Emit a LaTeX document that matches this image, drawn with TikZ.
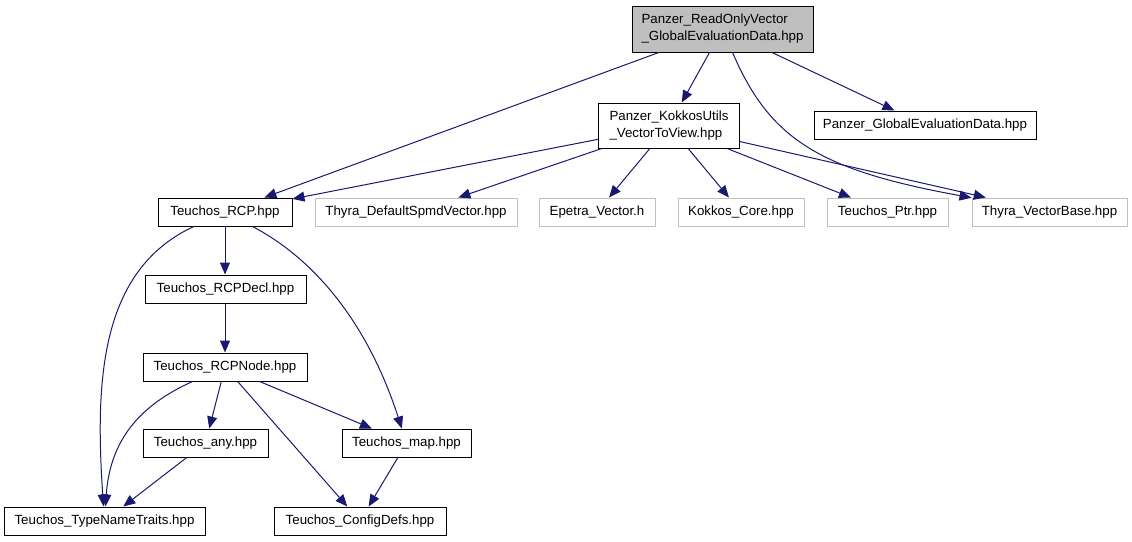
\documentclass[tikz,border=0pt]{standalone}
\usepackage{fontspec}
\setmainfont{Liberation Sans}
\usetikzlibrary{arrows.meta}
\definecolor{edgeblue}{HTML}{191970}
\definecolor{lightgrayb}{HTML}{BFBFBF}
\tikzset{
  box/.style={draw=black, line width=1pt, inner sep=0pt, font=\fontsize{13.3}{17}\selectfont, text=black},
  extbox/.style={draw=lightgrayb, line width=1pt, inner sep=0pt, font=\fontsize{13.3}{17}\selectfont, text=black},
  rootbox/.style={box, fill=lightgrayb},
  edge/.style={draw=edgeblue, line width=1pt, -{Triangle[length=12pt,width=10pt]}}
}
\begin{document}
\begin{tikzpicture}[x=1pt,y=-1pt]
\useasboundingbox[fill=white] (0,0) rectangle (1132,541);
% nodes
\node[rootbox, minimum width=181pt, minimum height=46pt, align=left] (root) at (722.5,29) {Panzer\_ReadOnlyVector\\\_GlobalEvaluationData.hpp};
\node[box, minimum width=141pt, minimum height=45pt, align=left] (kok) at (669,125.5) {Panzer\_KokkosUtils\\\_VectorToView.hpp};
\node[box, minimum width=222pt, minimum height=28pt] (ged) at (925,125) {Panzer\_GlobalEvaluationData.hpp};
\node[box, minimum width=134pt, minimum height=28pt] (rcp) at (225,212) {Teuchos\_RCP.hpp};
\node[extbox, minimum width=202pt, minimum height=28pt] (spmd) at (416,212) {Thyra\_DefaultSpmdVector.hpp};
\node[extbox, minimum width=116pt, minimum height=28pt] (epetra) at (597,212) {Epetra\_Vector.h};
\node[extbox, minimum width=126pt, minimum height=28pt] (kcore) at (741,212) {Kokkos\_Core.hpp};
\node[extbox, minimum width=121pt, minimum height=28pt] (ptr) at (887.5,212) {Teuchos\_Ptr.hpp};
\node[extbox, minimum width=155pt, minimum height=28pt] (vb) at (1049.5,212) {Thyra\_VectorBase.hpp};
\node[box, minimum width=161pt, minimum height=28pt] (decl) at (225.5,289) {Teuchos\_RCPDecl.hpp};
\node[box, minimum width=164pt, minimum height=28pt] (rnode) at (225,367) {Teuchos\_RCPNode.hpp};
\node[box, minimum width=125pt, minimum height=28pt] (any) at (205.5,443) {Teuchos\_any.hpp};
\node[box, minimum width=129pt, minimum height=28pt] (map) at (406.5,443) {Teuchos\_map.hpp};
\node[box, minimum width=201pt, minimum height=28pt] (tnt) at (104.5,521) {Teuchos\_TypeNameTraits.hpp};
\node[box, minimum width=172pt, minimum height=28pt] (cfg) at (360,521) {Teuchos\_ConfigDefs.hpp};
% edges
\draw[edge] (root) -- (rcp);
\draw[edge] (root) -- (kok);
\draw[edge] (root) .. controls (770,140) and (820,170) .. (vb);
\draw[edge] (root) -- (ged);
\draw[edge] (kok) -- (rcp);
\draw[edge] (kok) -- (spmd);
\draw[edge] (kok) -- (epetra);
\draw[edge] (kok) -- (kcore);
\draw[edge] (kok) -- (ptr);
\draw[edge] (kok) -- (vb);
\draw[edge] (rcp) -- (decl.north -| rcp.south);
\draw[edge] (rcp) .. controls (100,270) and (95,380) .. (tnt);
\draw[edge] (rcp) .. controls (320,262) and (370,330) .. (map);
\draw[edge] (decl.south -| rnode.north) -- (rnode);
\draw[edge] (rnode) .. controls (140,405) and (110,440) .. (tnt);
\draw[edge] (rnode) -- (any);
\draw[edge] (rnode) -- (cfg);
\draw[edge] (rnode) -- (map);
\draw[edge] (any) -- (tnt);
\draw[edge] (map) -- (cfg);
\end{tikzpicture}
\end{document}
